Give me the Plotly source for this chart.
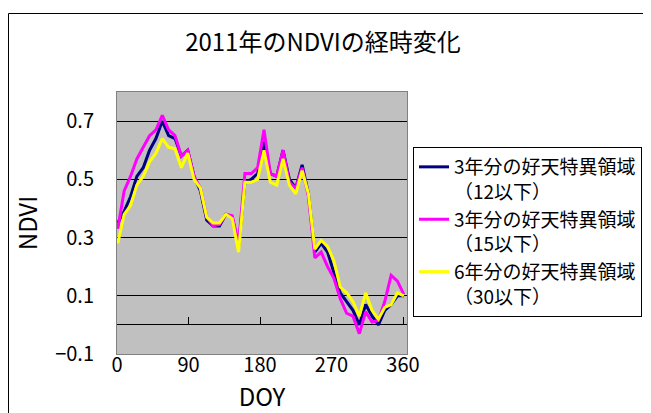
import plotly.graph_objects as go

# Day of year (8-day composites)
doy = [1, 9, 17, 25, 33, 41, 49, 57, 65, 73, 81, 89, 97, 105, 113, 121, 129, 137, 145, 153,
       161, 169, 177, 185, 193, 201, 209, 217, 225, 233, 241, 249, 257, 265, 273, 281, 289,
       297, 305, 313, 321, 329, 337, 345, 353, 361]

# 3年分の好天特異領域（12以下）
ndvi_12 = [0.35, 0.39, 0.44, 0.51, 0.54, 0.60, 0.64, 0.70, 0.65, 0.64, 0.58, 0.60,
           0.51, 0.46, 0.36, 0.34, 0.34, 0.38, 0.37, 0.27, 0.49, 0.50, 0.52, 0.63,
           0.52, 0.51, 0.60, 0.50, 0.47, 0.55, 0.45, 0.25, 0.28, 0.25, 0.18,
           0.11, 0.08, 0.05, 0.00, 0.07, 0.03, 0.00, 0.05, 0.07, 0.10, 0.10]

# 3年分の好天特異領域（15以下）
ndvi_15 = [0.33, 0.46, 0.51, 0.57, 0.61, 0.65, 0.67, 0.72, 0.67, 0.65, 0.58, 0.60,
           0.51, 0.47, 0.37, 0.34, 0.345, 0.38, 0.375, 0.28, 0.52, 0.52, 0.54, 0.67,
           0.52, 0.51, 0.60, 0.49, 0.47, 0.54, 0.44, 0.23, 0.25, 0.20, 0.16,
           0.09, 0.04, 0.03, -0.03, 0.045, 0.01, 0.015, 0.08, 0.17, 0.15, 0.105]

# 6年分の好天特異領域（30以下）
ndvi_30 = [0.28, 0.38, 0.41, 0.48, 0.51, 0.56, 0.59, 0.64, 0.61, 0.605, 0.54, 0.59,
           0.50, 0.47, 0.37, 0.35, 0.35, 0.38, 0.365, 0.25, 0.49, 0.49, 0.50, 0.60,
           0.49, 0.48, 0.57, 0.48, 0.45, 0.53, 0.45, 0.26, 0.29, 0.27, 0.22,
           0.13, 0.11, 0.08, 0.03, 0.11, 0.05, 0.02, 0.06, 0.07, 0.11, 0.10]

series_names = ["3年分の好天特異領域<br>（12以下）",
                "3年分の好天特異領域<br>（15以下）",
                "6年分の好天特異領域<br>（30以下）"]
series_colors = ["#000080", "#FF00FF", "#FFFF00"]

x_ticks = [0, 90, 180, 270, 360]
y_ticks = [-0.1, 0.1, 0.3, 0.5, 0.7]
x_range = [0, 365]
y_range = [-0.1, 0.8]

FONT = "Noto Sans CJK JP, Noto Sans, sans-serif"

fig = go.Figure()
for vals, name, col in zip([ndvi_12, ndvi_15, ndvi_30], series_names, series_colors):
    fig.add_trace(go.Scatter(x=doy, y=vals, mode="lines", name=name,
                             line=dict(color=col, width=3), hoverinfo="skip"))

# helper trace so the tick-mark axis at y=0 is rendered
fig.add_trace(go.Scatter(x=doy, y=ndvi_12, xaxis="x2", mode="lines",
                         line=dict(width=0, color="rgba(0,0,0,0)"),
                         showlegend=False, hoverinfo="skip"))

# The page body has an 8px margin, so the figure starts at (8, 8) on screen.
OFF = 8
W, H = 651 - OFF, 413 - OFF
ml = 117 - OFF
mr = 651 - 407
mt = 92 - OFF
mb = H - (354 - OFF)
pw, ph = W - ml - mr, H - mt - mb

def px_x(p):  # screen px -> paper x
    return (p - OFF - ml) / pw

def px_y(p):  # screen px -> paper y
    return (H - mb - (p - OFF)) / ph

zero_pos = (0 - y_range[0]) / (y_range[1] - y_range[0])

fig.update_layout(
    width=W, height=H,
    margin=dict(l=ml, r=mr, t=mt, b=mb, pad=0, autoexpand=False),
    paper_bgcolor="white",
    plot_bgcolor="#C0C0C0",
    font=dict(family=FONT, color="black"),
    title=dict(text="2011年のNDVIの経時変化", x=(323 - OFF) / W, xanchor="center",
               y=1 - (43 - OFF) / H, yanchor="middle", font=dict(size=24, family=FONT)),
    xaxis=dict(range=x_range, tickvals=x_ticks, ticktext=[str(v) for v in x_ticks],
               showgrid=False, zeroline=False, showline=True, linecolor="#808080",
               linewidth=1, mirror=True, ticks="", tickfont=dict(size=20),
               ticklabelstandoff=-7,
               title=dict(text="DOY", font=dict(size=24), standoff=10)),
    xaxis2=dict(range=x_range, overlaying="x", anchor="free", position=zero_pos,
                side="bottom", tickvals=x_ticks[1:], ticks="inside", ticklen=8,
                tickcolor="#000000", tickwidth=1, showticklabels=False,
                showgrid=False, zeroline=False, showline=False),
    yaxis=dict(range=y_range, tickvals=y_ticks, tickformat=".1f",
               showgrid=True, gridcolor="#000000", gridwidth=1,
               zeroline=True, zerolinecolor="#000000", zerolinewidth=1,
               showline=True, linecolor="#808080", linewidth=1, mirror=True,
               ticks="outside", ticklen=18, tickcolor="rgba(0,0,0,0)",
               tickfont=dict(size=20),
               title=dict(text="NDVI", font=dict(size=24), standoff=10)),
    legend=dict(x=px_x(413), xanchor="left", y=px_y(147), yanchor="top",
                bgcolor="white", bordercolor="black", borderwidth=1,
                font=dict(size=19, family=FONT), valign="top",
                tracegroupgap=0, itemclick=False),
    shapes=[dict(type="rect", xref="paper", yref="paper",
                 x0=px_x(8.5), x1=px_x(720), y0=px_y(470), y1=px_y(13.5),
                 line=dict(color="black", width=1), fillcolor="rgba(0,0,0,0)",
                 layer="below")],
)

fig.write_html("out.html")
